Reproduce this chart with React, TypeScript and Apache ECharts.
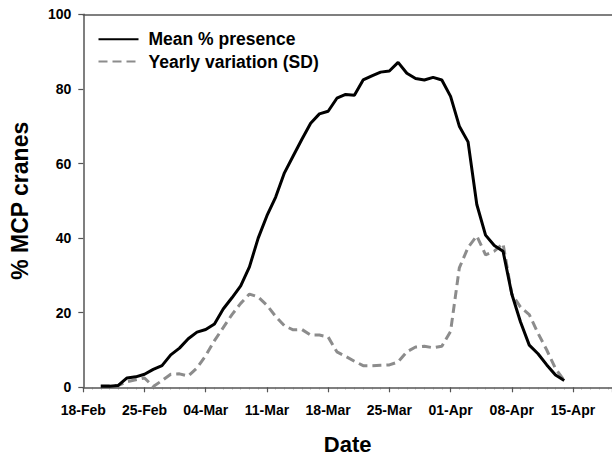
import React, { useEffect, useRef } from "react";
import * as echarts from "echarts";

// Day offsets counted from 18-Feb
const dayOffsets = [
  2, 3, 4, 5, 6, 7, 8, 9, 10, 11, 12, 13, 14, 15, 16, 17, 18, 19, 20, 21,
  22, 23, 24, 25, 26, 27, 28, 29, 30, 31, 32, 33, 34, 35, 36, 37, 38, 39, 40,
  41, 42, 43, 44, 45, 46, 47, 48, 49, 50, 51, 52, 53, 54, 55,
];

const meanPresence = [
  0.3, 0.3, 0.5, 2.5, 2.8, 3.5, 4.8, 5.8, 8.7, 10.5, 13, 14.8, 15.5, 17, 21,
  24, 27.2, 32.3, 40, 46, 51, 57.5, 62, 66.5, 70.8, 73.3, 74, 77.5, 78.5, 78.3,
  82.4, 83.5, 84.5, 84.8, 87.1, 84.2, 82.8, 82.4, 83.1, 82.4, 78, 70, 65.8, 49,
  40.8, 38, 36.5, 25, 17.5, 11.3, 9, 6, 3.3, 1.8,
];

const yearlySD = [
  0.4, 0.4, 0.5, 1.5, 2.0, 2.5, 0.2, 1.8, 3.5, 3.6, 3.0, 5.2, 8.5, 12.5, 16,
  19.5, 22.5, 25, 24.2, 22, 19, 16.5, 15.4, 15.5, 14, 14, 13.5, 9.5, 8.3, 7,
  5.8, 5.8, 5.9, 6, 6.8, 9.5, 10.8, 11, 10.6, 11, 15, 32, 37.5, 40.6, 35.5,
  36.5, 38.5, 25, 21.5, 19.5, 14.5, 10, 5, 1.8,
];

const xTickLabels = [
  "18-Feb", "25-Feb", "04-Mar", "11-Mar", "18-Mar", "25-Mar", "01-Apr", "08-Apr", "15-Apr",
];
const yTickLabels = ["0", "20", "40", "60", "80", "100"];

const seriesNames = ["Mean % presence", "Yearly variation (SD)"];

const FONT = "'Liberation Sans', Arial, Helvetica, sans-serif";
const AXIS_COLOR = "#555555";

export default function App() {
  const ref = useRef<HTMLDivElement>(null);

  useEffect(() => {
    if (!ref.current) return;
    const chart = echarts.init(ref.current, undefined, { renderer: "svg" });
    const meanData = dayOffsets.map((d, i) => [d, meanPresence[i]]);
    const sdData = dayOffsets.map((d, i) => [d, yearlySD[i]]);

    chart.setOption({
      animation: false,
      backgroundColor: "#ffffff",
      textStyle: { fontFamily: FONT },
      grid: {
        left: 83.3,
        right: 0,
        top: 14.3,
        bottom: 69.7,
        containLabel: false,
        outerBoundsMode: "none",
      },
      legend: {
        data: seriesNames,
        orient: "vertical",
        left: 97.5,
        top: 30.3,
        padding: 0,
        itemWidth: 40,
        itemHeight: 14,
        itemGap: 4.2,
        itemStyle: { opacity: 0 },
        textStyle: {
          fontFamily: FONT,
          fontWeight: "bold",
          fontSize: 17.5,
          color: "#000",
          padding: [0, 0, 0, 5],
        },
      },
      xAxis: [
        {
          type: "value",
          min: 0,
          max: 60.46,
          interval: 7,
          position: "bottom",
          name: "Date",
          nameLocation: "middle",
          nameGap: 46,
          nameTextStyle: {
            fontFamily: FONT,
            fontWeight: "bold",
            fontSize: 22,
            lineHeight: 22,
            color: "#000",
          },
          axisLine: { show: true, onZero: false, lineStyle: { color: AXIS_COLOR, width: 1.5 } },
          axisTick: { show: true, length: 5, lineStyle: { color: AXIS_COLOR, width: 1.2 } },
          minorTick: { show: true, splitNumber: 7, length: 2, lineStyle: { color: "#777", width: 1 } },
          splitLine: { show: false },
          axisLabel: {
            margin: 16,
            fontFamily: FONT,
            fontWeight: "bold",
            fontSize: 14,
            color: "#000",
            showMaxLabel: false,
            formatter: (v: number) => {
              const k = v / 7;
              return Number.isInteger(k) && xTickLabels[k] ? xTickLabels[k] : "";
            },
          },
        },
        {
          type: "value",
          min: 0,
          max: 60.46,
          position: "top",
          axisLine: { show: true, onZero: false, lineStyle: { color: AXIS_COLOR, width: 1.5 } },
          axisTick: { show: false },
          axisLabel: { show: false },
          splitLine: { show: false },
        },
      ],
      yAxis: {
        type: "value",
        min: 0,
        max: 100,
        interval: 20,
        name: "% MCP cranes",
        nameLocation: "middle",
        nameGap: 52,
        nameTextStyle: { fontFamily: FONT, fontWeight: "bold", fontSize: 23, color: "#000" },
        axisLine: { show: true, lineStyle: { color: AXIS_COLOR, width: 1.5 } },
        axisTick: { show: true, length: 5, lineStyle: { color: AXIS_COLOR, width: 1.2 } },
        splitLine: { show: false },
        axisLabel: {
          margin: 12,
          fontFamily: FONT,
          fontWeight: "bold",
          fontSize: 14,
          color: "#000",
          formatter: (v: number) => yTickLabels[v / 20] ?? "",
        },
      },
      series: [
        {
          name: seriesNames[1],
          type: "line",
          data: sdData,
          symbol: "none",
          z: 2,
          lineStyle: { color: "#8c8c8c", width: 3, type: [9, 5] },
          itemStyle: { color: "#8c8c8c" },
        },
        {
          name: seriesNames[0],
          type: "line",
          data: meanData,
          symbol: "none",
          z: 3,
          lineStyle: { color: "#000000", width: 3, type: "solid" },
          itemStyle: { color: "#000000" },
        },
      ],
    });
    return () => chart.dispose();
  }, []);

  return (
    <div
      ref={ref}
      style={{ position: "absolute", left: 0, top: 0, width: 612, height: 457 }}
    />
  );
}
